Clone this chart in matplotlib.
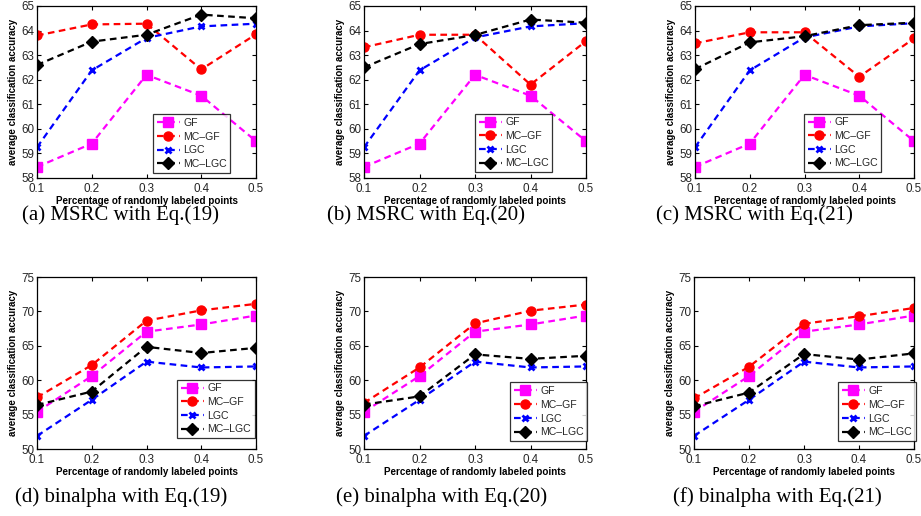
import matplotlib
matplotlib.use('Agg')

import matplotlib.pyplot as plt
import numpy as np

# ── Data ─────────────────────────────────────────────────────────────────────
X_FRAC = [0.1, 0.2, 0.3, 0.4, 0.5]
SERIES = ['GF', 'MC\u2013GF', 'LGC', 'MC\u2013LGC']

# MSRC (top row)
MSRC_GF = [58.45, 59.40, 62.20, 61.35, 59.50]
MSRC19_MCGF = [63.80, 64.25, 64.28, 62.42, 63.85]
MSRC19_LGC = [59.25, 62.38, 63.70, 64.17, 64.28]
MSRC19_MCLGC = [62.60, 63.55, 63.83, 64.65, 64.50]

MSRC20_MCGF = [63.32, 63.83, 63.83, 61.80, 63.57]
MSRC20_LGC = [59.25, 62.38, 63.72, 64.17, 64.30]
MSRC20_MCLGC = [62.50, 63.45, 63.82, 64.45, 64.32]

MSRC21_MCGF = [63.48, 63.93, 63.93, 62.12, 63.68]
MSRC21_LGC = [59.25, 62.38, 63.72, 64.17, 64.30]
MSRC21_MCLGC = [62.43, 63.52, 63.77, 64.22, 64.32]

# binalpha (bottom row)
BIN_GF = [55.40, 60.60, 67.05, 68.10, 69.40]
BIN_LGC = [51.90, 57.15, 62.70, 61.85, 62.00]
BIN19_MCGF = [57.50, 62.20, 68.65, 70.15, 71.10]
BIN19_MCLGC = [56.40, 58.35, 64.85, 63.95, 64.70]

BIN20_MCGF = [56.70, 61.85, 68.25, 70.10, 71.00]
BIN20_MCLGC = [56.45, 57.65, 63.75, 63.10, 63.55]

BIN21_MCGF = [57.35, 61.95, 68.20, 69.30, 70.50]
BIN21_MCLGC = [56.20, 58.20, 63.80, 63.00, 63.90]

CAPTIONS = ['(a) MSRC with Eq.(19)', '(b) MSRC with Eq.(20)',
            '(c) MSRC with Eq.(21)', '(d) binalpha with Eq.(19)',
            '(e) binalpha with Eq.(20)', '(f) binalpha with Eq.(21)']

# ── Styles ───────────────────────────────────────────────────────────────────
STYLES = [
    dict(color='#ff00ff', marker='s', ms=7.5),
    dict(color='#ff0000', marker='o', ms=6.5),
    dict(color='#0000ff', marker='x', ms=5, mew=2.0),
    dict(color='#000000', marker='D', ms=6.5),
]

W, H = 921, 516
# axes boxes in pixels: (left, top, right, bottom)
BOXES = [(37, 6, 256, 178), (364, 6, 586, 178), (695, 6, 914, 178),
         (37, 277, 256, 449), (364, 277, 586, 449), (694, 277, 914, 449)]
LEG_ANCHOR = [(0.53, 0.03), (0.50, 0.035), (0.498, 0.035),
              (0.64, 0.064), (0.658, 0.047), (0.655, 0.047)]
CAP_POS = [(120, 215), (426, 215), (754, 215),
           (121, 497), (442, 497), (777, 497)]

plt.rcParams['font.family'] = ['Liberation Sans', 'DejaVu Sans']

fig = plt.figure(figsize=(W / 100, H / 100), dpi=100)

panels = [
    (MSRC_GF, MSRC19_MCGF, MSRC19_LGC, MSRC19_MCLGC),
    (MSRC_GF, MSRC20_MCGF, MSRC20_LGC, MSRC20_MCLGC),
    (MSRC_GF, MSRC21_MCGF, MSRC21_LGC, MSRC21_MCLGC),
    (BIN_GF, BIN19_MCGF, BIN_LGC, BIN19_MCLGC),
    (BIN_GF, BIN20_MCGF, BIN_LGC, BIN20_MCLGC),
    (BIN_GF, BIN21_MCGF, BIN_LGC, BIN21_MCLGC),
]

for i, (data, box, anchor, cap) in enumerate(zip(panels, BOXES, LEG_ANCHOR, CAP_POS)):
    l, t, r, b = box
    ax = fig.add_axes([l / W, 1 - b / H, (r - l) / W, (b - t) / H])
    for name, ys, st in zip(SERIES, data, STYLES):
        ax.plot(X_FRAC, ys, linestyle=(0, (3, 2)), lw=1.6, label=name,
                color=st['color'], marker=st['marker'], ms=st['ms'],
                mew=st.get('mew', 1.0), mfc=st['color'], mec=st['color'])

    ax.set_xlim(0.1, 0.5)
    ax.set_xticks(X_FRAC)
    ax.set_xticklabels(['0.1', '0.2', '0.3', '0.4', '0.5'])
    if i < 3:
        ax.set_ylim(58, 65)
        ax.set_yticks(np.arange(58, 66, 1))
    else:
        ax.set_ylim(50, 75)
        ax.set_yticks(np.arange(50, 76, 5))

    ax.tick_params(direction='in', length=3, width=0.8, top=True, right=True,
                   labelsize=8.4, labelcolor='#262626')
    ax.tick_params(axis='x', pad=3.5)
    ax.tick_params(axis='y', pad=2)
    for sp in ax.spines.values():
        sp.set_linewidth(0.9)
    ax.set_xlabel('Percentage of randomly labeled points', fontsize=7.1,
                  fontweight='bold', labelpad=0.5)
    ax.set_ylabel('average classification accuracy', fontsize=7.0,
                  fontweight='bold', labelpad=2)

    leg = ax.legend(loc='lower left', bbox_to_anchor=anchor, fontsize=7.6,
                    frameon=True, fancybox=False, edgecolor='black',
                    handlelength=2.2, handletextpad=0.3, borderpad=0.35,
                    labelspacing=0.35, borderaxespad=0)
    leg.get_frame().set_linewidth(0.9)
    for txt in leg.get_texts():
        txt.set_color('#262626')

    fig.text(cap[0] / W, 1 - cap[1] / H, CAPTIONS[i], ha='center', va='center',
             fontsize=15, family=['Liberation Serif', 'DejaVu Serif'])

fig.savefig('out.png', dpi=100, facecolor='white')
plt.close(fig)
